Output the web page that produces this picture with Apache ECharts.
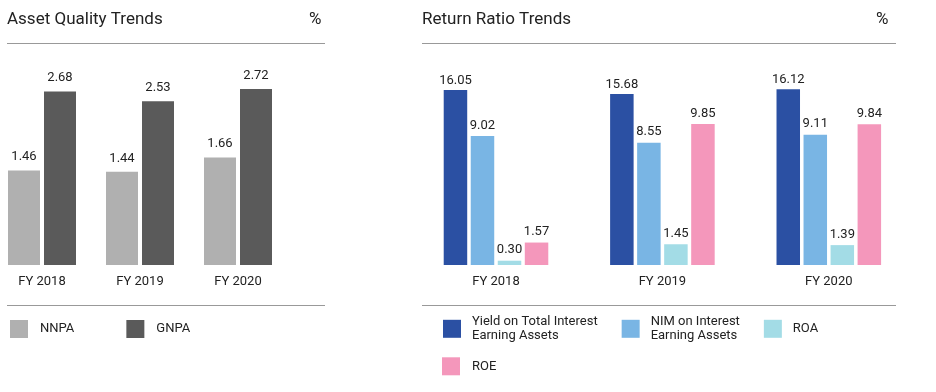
<!DOCTYPE html>
<html>
<head>
<meta charset="utf-8">
<script src="https://cdn.jsdelivr.net/npm/echarts@6/dist/echarts.min.js"></script>
<style>
html,body{margin:0;padding:0;background:#fff;}
#c{width:936px;height:392px;}
</style>
</head>
<body>
<div id="c"></div>
<script>
var categories = ['FY 2018', 'FY 2019', 'FY 2020'];
var nnpa = [1.46, 1.44, 1.66];
var gnpa = [2.68, 2.53, 2.72];
var yieldTIEA = [16.05, 15.68, 16.12];
var nimIEA = [9.02, 8.55, 9.11];
var roa = [0.30, 1.45, 1.39];
var roe = [1.57, 9.85, 9.84];

var FONT = 'Roboto';
var TXT = '#222222';

function lbl(dist) {
  return {
    show: true, position: 'top', distance: dist,
    color: TXT, fontSize: 13, fontFamily: FONT,
    formatter: function (p) { return Number(p.value).toFixed(2); }
  };
}

var chart = echarts.init(document.getElementById('c'), null, {renderer: 'canvas'});
var option = {
  backgroundColor: '#ffffff',
  animation: false,
  title: [
    {text: 'Asset Quality Trends', left: 7, top: 11, padding: 0,
     textStyle: {fontSize: 17, fontWeight: 'normal', color: TXT, fontFamily: FONT}},
    {text: '%', left: 309, top: 11, padding: 0,
     textStyle: {fontSize: 17, fontWeight: 'normal', color: TXT, fontFamily: FONT}},
    {text: 'Return Ratio Trends', left: 422, top: 11, padding: 0,
     textStyle: {fontSize: 17, fontWeight: 'normal', color: TXT, fontFamily: FONT}},
    {text: '%', left: 876, top: 11, padding: 0,
     textStyle: {fontSize: 17, fontWeight: 'normal', color: TXT, fontFamily: FONT}}
  ],
  graphic: [
    {type: 'line', shape: {x1: 7, y1: 43.5, x2: 325, y2: 43.5}, style: {stroke: '#999', lineWidth: 1}},
    {type: 'line', shape: {x1: 7, y1: 305.5, x2: 325, y2: 305.5}, style: {stroke: '#999', lineWidth: 1}},
    {type: 'line', shape: {x1: 422, y1: 43.5, x2: 896, y2: 43.5}, style: {stroke: '#999', lineWidth: 1}},
    {type: 'line', shape: {x1: 422, y1: 305.5, x2: 896, y2: 305.5}, style: {stroke: '#999', lineWidth: 1}}
  ],
  legend: [
    {data: ['NNPA', 'GNPA'], left: 10, top: 320, padding: 0, icon: 'rect',
     itemWidth: 18, itemHeight: 18, itemGap: 52, orient: 'horizontal',
     textStyle: {fontSize: 13, color: TXT, fontFamily: FONT, padding: [0, 0, 0, 7]}},
    {data: ['Yield on Total Interest Earning Assets', 'NIM on Interest Earning Assets', 'ROA'],
     left: 443, top: 314.5, padding: 0, icon: 'rect',
     itemWidth: 18, itemHeight: 18, itemGap: 24, orient: 'horizontal',
     formatter: function (n) {
       if (n === 'Yield on Total Interest Earning Assets') return 'Yield on Total Interest\nEarning Assets';
       if (n === 'NIM on Interest Earning Assets') return 'NIM on Interest\nEarning Assets';
       return n;
     },
     textStyle: {fontSize: 13, lineHeight: 14.3, color: TXT, fontFamily: FONT, padding: [0, 0, 0, 6]}},
    {data: ['ROE'], left: 442, top: 357.3, padding: 0, icon: 'rect',
     itemWidth: 18, itemHeight: 18, orient: 'horizontal',
     textStyle: {fontSize: 13, color: TXT, fontFamily: FONT, padding: [0, 0, 0, 7]}}
  ],
  grid: [
    {left: -7, top: 45, width: 294, height: 220, outerBoundsMode: 'none', containLabel: false},
    {left: 412.8, top: 45, width: 499.2, height: 220, outerBoundsMode: 'none', containLabel: false}
  ],
  xAxis: [
    {type: 'category', gridIndex: 0, data: categories,
     axisLine: {show: false}, axisTick: {show: false}, splitLine: {show: false},
     axisLabel: {color: TXT, fontSize: 13, fontFamily: FONT, margin: 10}},
    {type: 'category', gridIndex: 1, data: categories,
     axisLine: {show: false}, axisTick: {show: false}, splitLine: {show: false},
     axisLabel: {color: TXT, fontSize: 13, fontFamily: FONT, margin: 10}}
  ],
  yAxis: [
    {type: 'value', gridIndex: 0, min: 0, max: 3.4, show: false},
    {type: 'value', gridIndex: 1, min: 0, max: 15.38, show: false},
    {type: 'value', gridIndex: 1, min: 0, max: 20.18, show: false}
  ],
  series: [
    {name: 'NNPA', type: 'bar', xAxisIndex: 0, yAxisIndex: 0, data: nnpa,
     barWidth: 32, barGap: '12.5%', itemStyle: {color: '#b0b0b0'}, label: lbl(7)},
    {name: 'GNPA', type: 'bar', xAxisIndex: 0, yAxisIndex: 0, data: gnpa,
     barWidth: 32, barGap: '12.5%', itemStyle: {color: '#5a5a5a'}, label: lbl(7)},
    {name: 'Yield on Total Interest Earning Assets', type: 'bar', xAxisIndex: 1, yAxisIndex: 2, data: yieldTIEA,
     barWidth: 23.5, barGap: '15%', itemStyle: {color: '#2b50a3'}, label: lbl(3)},
    {name: 'NIM on Interest Earning Assets', type: 'bar', xAxisIndex: 1, yAxisIndex: 1, data: nimIEA,
     barWidth: 23.5, barGap: '15%', itemStyle: {color: '#79b5e4'}, label: lbl(4)},
    {name: 'ROA', type: 'bar', xAxisIndex: 1, yAxisIndex: 1, data: roa,
     barWidth: 23.5, barGap: '15%', itemStyle: {color: '#a3dce6'}, label: lbl(4)},
    {name: 'ROE', type: 'bar', xAxisIndex: 1, yAxisIndex: 1, data: roe,
     barWidth: 23.5, barGap: '15%', itemStyle: {color: '#f497bb'}, label: lbl(4)}
  ]
};
chart.setOption(option);
</script>
</body>
</html>
